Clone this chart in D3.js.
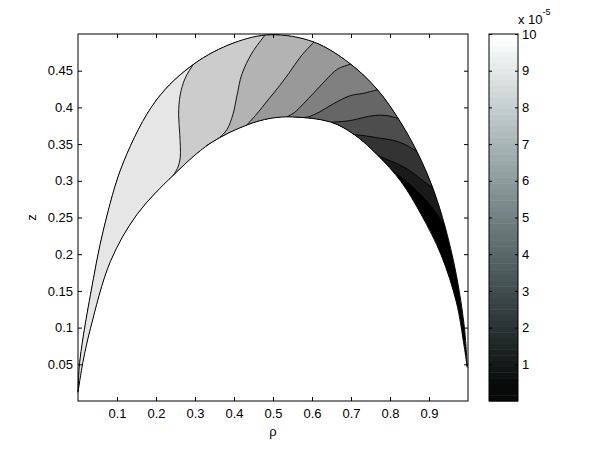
<!DOCTYPE html>
<html><head><meta charset="utf-8">
<script src="https://cdn.jsdelivr.net/npm/d3@7"></script>
<style>
body{margin:0;background:#fff}
svg{display:block}
text{font-family:"Liberation Sans",Arial,Helvetica,sans-serif;font-size:13px;fill:#000}
</style>
</head><body>
<svg id="c" width="599" height="450"></svg>
<script>
// ---------- data ----------
const xTicks = [0.1,0.2,0.3,0.4,0.5,0.6,0.7,0.8,0.9];
const yTicks = [0.05,0.1,0.15,0.2,0.25,0.3,0.35,0.4,0.45];
const cbTicks = [1,2,3,4,5,6,7,8,9,10];
const cbExponent = "-5";
// band value (x1e-5) of the region lying left of each contour line, contour 1..9
const bandLevels = [9,8,7,6,5,4,3,2,1];
const baseLevel = 0;
const outerArc = [[0.0,0.012],[0.003,0.045],[0.010,0.076],[0.032,0.145],[0.066,0.235],[0.117,0.326],
  [0.201,0.410],[0.297,0.459],[0.40,0.488],[0.495,0.499],[0.605,0.489],[0.699,0.459],[0.768,0.424],
  [0.821,0.385],[0.869,0.340],[0.910,0.290],[0.942,0.236],[0.970,0.172],[0.991,0.099],[0.998,0.046]];
const innerArc = [[0.0,0.012],[0.013,0.054],[0.032,0.099],[0.083,0.190],[0.151,0.254],[0.245,0.308],
  [0.339,0.351],[0.433,0.376],[0.493,0.385],[0.550,0.387],[0.648,0.380],[0.708,0.363],[0.768,0.335],
  [0.828,0.299],[0.880,0.254],[0.931,0.199],[0.970,0.135],[0.990,0.075],[0.998,0.046]];
const contour1 = [[0.296,0.459],[0.275,0.440],[0.262,0.417],[0.258,0.390],[0.261,0.363],[0.262,0.331],[0.255,0.317],[0.245,0.308]];
const contour2 = [[0.480,0.499],[0.446,0.474],[0.420,0.445],[0.408,0.417],[0.397,0.390],[0.382,0.370],[0.361,0.358],[0.339,0.351]];
const contour3 = [[0.605,0.489],[0.572,0.470],[0.540,0.446],[0.510,0.425],[0.490,0.412],[0.472,0.400],[0.455,0.389],[0.433,0.376]];
const contour4 = [[0.699,0.459],[0.665,0.452],[0.635,0.437],[0.605,0.420],[0.578,0.405],[0.555,0.393],[0.535,0.387]];
const contour5 = [[0.768,0.424],[0.730,0.419],[0.698,0.416],[0.655,0.405],[0.620,0.394],[0.590,0.387],[0.570,0.386]];
const contour6 = [[0.821,0.385],[0.790,0.389],[0.760,0.389],[0.730,0.386],[0.698,0.382],[0.655,0.380]];
const contour7 = [[0.869,0.340],[0.840,0.349],[0.810,0.355],[0.775,0.358],[0.740,0.361],[0.708,0.363]];
const contour8 = [[0.910,0.290],[0.880,0.302],[0.850,0.314],[0.820,0.323],[0.792,0.329],[0.768,0.335]];
const contour9 = [[0.942,0.236],[0.920,0.255],[0.895,0.272],[0.865,0.288],[0.835,0.302],[0.810,0.312]];
const contours = [contour1,contour2,contour3,contour4,contour5,contour6,contour7,contour8,contour9];

// ---------- scales ----------
const svg = d3.select("#c");
const x = d3.scaleLinear().domain([0,1]).range([78,468]);
const y = d3.scaleLinear().domain([0,0.5]).range([401,34]);
const cb = d3.scaleLinear().domain([0,10]).range([401,34]);
const grayOf = v => { const g = Math.round(255*v/10); return d3.rgb(g,g,g).toString(); };

const line = d3.line().x(d=>x(d[0])).y(d=>y(d[1])).curve(d3.curveCatmullRom.alpha(0.5));
const crescent = line(outerArc) + "L" + line(innerArc.slice().reverse()).slice(1) + "Z";

// extend a contour a few pixels beyond both ends (it is clipped to the crescent)
function extend(c){
  const px = c.map(d=>[x(d[0]),y(d[1])]);
  const ext = (a,b) => { const dx=a[0]-b[0], dy=a[1]-b[1], l=Math.hypot(dx,dy)||1; return [a[0]+dx/l*5, a[1]+dy/l*5]; };
  const s = ext(px[0],px[1]), e = ext(px[px.length-1],px[px.length-2]);
  return [[x.invert(s[0]),y.invert(s[1])], ...c, [x.invert(e[0]),y.invert(e[1])]];
}

const defs = svg.append("defs");
defs.append("clipPath").attr("id","cres").append("path").attr("d",crescent);

const g = svg.append("g").attr("clip-path","url(#cres)");
g.append("path").attr("d",crescent).attr("fill",grayOf(baseLevel));
for (let k = contours.length-1; k >= 0; k--){
  const c = extend(contours[k]);
  const o = c[0], i = c[c.length-1];
  const d = "M" + x(o[0]) + "," + y(0.8) + "L" + line(c).slice(1) +
            "L" + x(i[0]) + "," + y(-0.5) + "L" + x(-0.5) + "," + y(-0.5) + "L" + x(-0.5) + "," + y(0.8) + "Z";
  g.append("path").attr("d",d).attr("fill",grayOf(bandLevels[k]));
}
contours.forEach(c => {
  g.append("path").attr("d",line(extend(c))).attr("fill","none").attr("stroke","#000").attr("stroke-width",0.9);
});
svg.append("path").attr("d",crescent).attr("fill","none").attr("stroke","#000").attr("stroke-width",1);

// ---------- axes ----------
function styleAxis(sel, labels){
  sel.select(".domain").remove();
  sel.selectAll(".tick line").attr("stroke","#000");
  if(!labels) sel.selectAll(".tick text").remove();
  sel.selectAll(".tick text").attr("font-size",13).attr("font-family","Liberation Sans, Arial, sans-serif");
}
styleAxis(svg.append("g").attr("transform","translate(0,401)").call(d3.axisBottom(x).tickValues(xTicks).tickSize(-4).tickPadding(8).tickFormat(d3.format("~g"))), true);
styleAxis(svg.append("g").attr("transform","translate(0,34)").call(d3.axisTop(x).tickValues(xTicks).tickSize(-4)), false);
styleAxis(svg.append("g").attr("transform","translate(78,0)").call(d3.axisLeft(y).tickValues(yTicks).tickSize(-4).tickPadding(5).tickFormat(d3.format("~g"))), true);
styleAxis(svg.append("g").attr("transform","translate(468,0)").call(d3.axisRight(y).tickValues(yTicks).tickSize(-4)), false);
svg.append("rect").attr("x",78).attr("y",34).attr("width",390).attr("height",367)
  .attr("fill","none").attr("stroke","#000").attr("stroke-width",1);

svg.append("text").attr("x",273).attr("y",436).attr("text-anchor","middle").text("ρ");
svg.append("text").attr("transform","translate(36,217.5) rotate(-90)").attr("text-anchor","middle").text("z");

// ---------- colorbar (grey with a slight cool tint, 64 entries) ----------
const m = 64;
function cmap(i){
  const t = i/(m-1), s = Math.sin(Math.PI*t);
  const r = 255*t - 14*s, gb = 255*t + 2*s;
  return d3.rgb(Math.round(Math.max(8,r)), Math.round(Math.max(9,gb)), Math.round(Math.max(9,gb))).toString();
}
const cbg = svg.append("g");
const cbX0 = 489, cbW = 29;
d3.range(m).forEach(i => {
  const v0 = 10*i/m, v1 = 10*(i+1)/m;
  cbg.append("rect").attr("x",cbX0).attr("width",cbW)
    .attr("y",cb(v1)).attr("height",cb(v0)-cb(v1)+0.5).attr("fill",cmap(i));
});
styleAxis(svg.append("g").attr("transform",`translate(${cbX0+cbW},0)`).call(d3.axisRight(cb).tickValues(cbTicks).tickSize(-3).tickPadding(4)), true);
styleAxis(svg.append("g").attr("transform",`translate(${cbX0},0)`).call(d3.axisLeft(cb).tickValues(cbTicks).tickSize(-3)), false);
svg.append("rect").attr("x",cbX0).attr("y",34).attr("width",cbW).attr("height",367)
  .attr("fill","none").attr("stroke","#000").attr("stroke-width",1);
const t = svg.append("text").attr("x",518).attr("y",24);
t.append("tspan").text("x 10");
t.append("tspan").attr("dy",-9).attr("font-size",9).text(cbExponent);
</script>
</body></html>
